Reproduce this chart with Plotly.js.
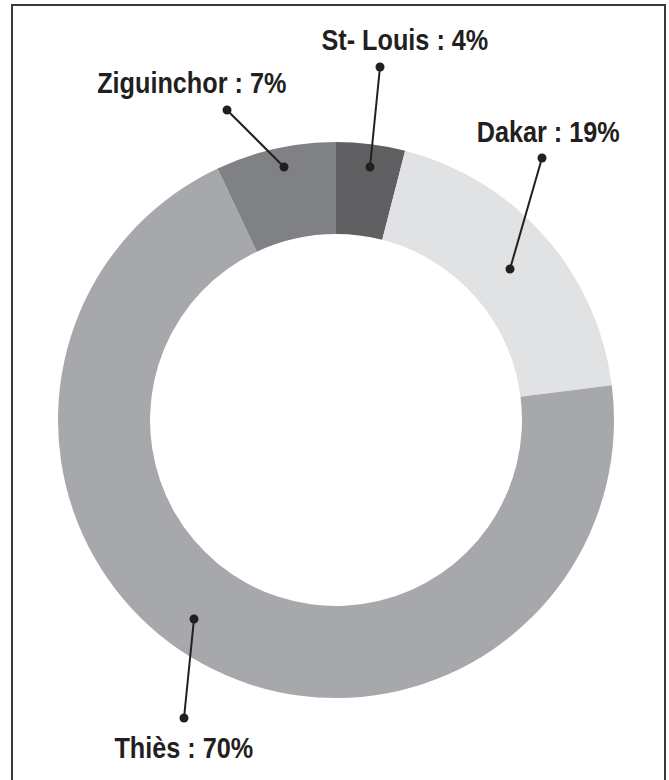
<!DOCTYPE html>
<html>
<head>
<meta charset="utf-8">
<script src="https://cdn.plot.ly/plotly-3.0.1.min.js"></script>
<style>
  html, body { margin: 0; padding: 0; background: #fff; }
  #chart { width: 669px; height: 780px; }
</style>
</head>
<body>
<div id="chart"></div>
<script>
// Data
const regions = ["St- Louis", "Dakar", "Thiès", "Ziguinchor"];
const shares = [4, 19, 70, 7];
const sliceColors = ["#606062", "#e1e2e4", "#a7a8ab", "#808184"];

// Layout helpers (pixel positions of labels and leader lines)
const W = 669, H = 780;
const cx = 336, cy = 420, R = 278;
const px = x => x / W;
const py = y => 1 - y / H;
const textSqueeze = 0.87;

const labelPos = [
  {x: 405, y: 40},   // St- Louis
  {x: 548, y: 132},  // Dakar
  {x: 184, y: 748},  // Thiès
  {x: 192, y: 83}    // Ziguinchor
];
const leaders = [
  {x0: 380, y0: 67,  x1: 370, y1: 167},
  {x0: 542, y0: 158, x1: 510, y1: 269},
  {x0: 184, y0: 718, x1: 194, y1: 619},
  {x0: 227, y0: 110, x1: 284, y1: 167}
];

const shapes = [];
const dotR = 4.5;
leaders.forEach(l => {
  shapes.push({type: "line", xref: "paper", yref: "paper",
    x0: px(l.x0), y0: py(l.y0), x1: px(l.x1), y1: py(l.y1),
    line: {color: "#231f20", width: 2}});
  [[l.x0, l.y0], [l.x1, l.y1]].forEach(p => {
    shapes.push({type: "circle", xref: "paper", yref: "paper",
      x0: px(p[0] - dotR), x1: px(p[0] + dotR),
      y0: py(p[1] + dotR), y1: py(p[1] - dotR),
      fillcolor: "#231f20", line: {color: "#231f20", width: 0}});
  });
});
// frame
shapes.push({type: "rect", xref: "paper", yref: "paper",
  x0: px(12), x1: px(665), y0: py(800), y1: py(5),
  line: {color: "#3a3a3a", width: 2}, fillcolor: "rgba(0,0,0,0)", layer: "below"});

const annotations = regions.map((r, i) => ({
  xref: "paper", yref: "paper",
  x: px(labelPos[i].x), y: py(labelPos[i].y),
  xanchor: "center", yanchor: "middle",
  text: "<b>" + r + " : " + shares[i] + "%</b>",
  showarrow: false,
  font: {family: "Liberation Sans, Arial, sans-serif", size: 29, color: "#231f20"}
}));

const trace = {
  type: "pie",
  labels: regions,
  values: shares,
  sort: false,
  direction: "clockwise",
  rotation: 0,
  hole: 0.669,
  marker: {colors: sliceColors, line: {width: 0}},
  textinfo: "none",
  hoverinfo: "label+percent",
  showlegend: false,
  domain: {x: [px(cx - R), px(cx + R)], y: [py(cy + R), py(cy - R)]}
};

Plotly.newPlot("chart", [trace], {
  width: W, height: H,
  margin: {l: 0, r: 0, t: 0, b: 0},
  paper_bgcolor: "#ffffff",
  showlegend: false,
  shapes: shapes,
  annotations: annotations
}, {displayModeBar: false, staticPlot: true}).then(gd => {
  // emulate the condensed bold typeface by squeezing the label text horizontally
  gd.querySelectorAll("text.annotation-text").forEach(t => {
    const bb = t.getBBox();
    const c = bb.x + bb.width / 2;
    const prev = t.getAttribute("transform") || "";
    t.setAttribute("transform",
      prev + " translate(" + c + ",0) scale(" + textSqueeze + ",1) translate(" + (-c) + ",0)");
  });
});
</script>
</body>
</html>
